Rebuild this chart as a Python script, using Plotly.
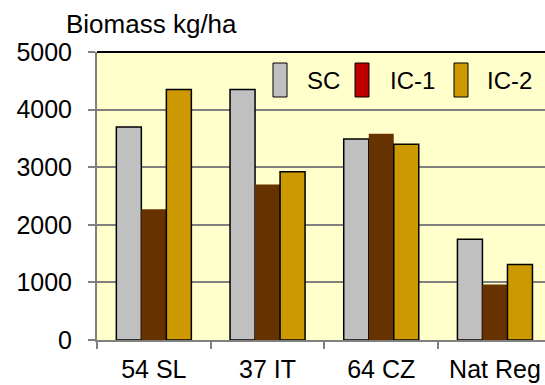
import plotly.graph_objects as go

categories = ["54 SL", "37 IT", "64 CZ", "Nat Reg"]
sc_values = [3700, 4350, 3490, 1750]
ic1_values = [2270, 2700, 3580, 965]
ic2_values = [4350, 2920, 3400, 1310]
y_ticks = [0, 1000, 2000, 3000, 4000, 5000]

W, H = 545, 385
L, R, T, B = 97, 0, 52, 45
PW, PH = W - L - R, H - T - B
CAT_PX = 113.7  # pixel width of one category in the reference

FONT = "Arial, Liberation Sans, sans-serif"

fig = go.Figure()
fig.add_trace(go.Bar(x=categories, y=sc_values, name="SC",
                     marker=dict(color="#C0C0C0", line=dict(color="black", width=1.5))))
fig.add_trace(go.Bar(x=categories, y=ic1_values, name="IC-1",
                     marker=dict(color="#663300", line=dict(color="#663300", width=0))))
fig.add_trace(go.Bar(x=categories, y=ic2_values, name="IC-2",
                     marker=dict(color="#CC9900", line=dict(color="black", width=1.5))))

def px_x(p):
    return (p - L) / PW

def px_y(p):
    return (H - B - p) / PH

shapes = [dict(type="line", xref="paper", yref="paper", x0=0, x1=1, y0=1, y1=1,
               line=dict(color="black", width=2))]
annotations = [dict(text="Biomass kg/ha", xref="paper", yref="paper",
                    x=px_x(64), y=px_y(24), xanchor="left", yanchor="middle",
                    showarrow=False, font=dict(family=FONT, size=26, color="black"))]

legend_items = [("SC", "#C0C0C0", 273, 307), ("IC-1", "#C00000", 355, 390), ("IC-2", "#CC9900", 454, 487)]
for name, col, sx, tx in legend_items:
    shapes.append(dict(type="rect", xref="paper", yref="paper",
                       x0=px_x(sx), x1=px_x(sx + 14), y0=px_y(97), y1=px_y(63),
                       fillcolor=col, line=dict(color="black", width=1)))
    annotations.append(dict(text=name, xref="paper", yref="paper", x=px_x(tx - 2), y=px_y(80),
                            xanchor="left", yanchor="middle", showarrow=False,
                            font=dict(family=FONT, size=24, color="black")))

fig.update_layout(
    width=W, height=H,
    margin=dict(l=L, r=R, t=T, b=B, pad=0),
    paper_bgcolor="white", plot_bgcolor="#FFFFCC",
    barmode="group", bargap=0.34, bargroupgap=0,
    showlegend=False,
    font=dict(family=FONT, size=26, color="black"),
    shapes=shapes, annotations=annotations,
    xaxis=dict(showgrid=False, showline=True, linecolor="#808080", linewidth=2,
               range=[-0.5, -0.5 + PW / CAT_PX],
               ticks="outside", tickson="boundaries", ticklen=7, tickcolor="#808080", tickwidth=2,
               ticklabelstandoff=6,
               tickfont=dict(family=FONT, size=25, color="black")),
    yaxis=dict(range=[0, 5000], tickvals=y_ticks, showgrid=True, gridcolor="#808080", gridwidth=2,
               showline=True, linecolor="#808080", linewidth=2, zeroline=False,
               ticks="outside", ticklen=7, tickcolor="#808080", tickwidth=2,
               ticklabelstandoff=11,
               tickfont=dict(family=FONT, size=25, color="black")),
)

fig.write_html("out.html")
